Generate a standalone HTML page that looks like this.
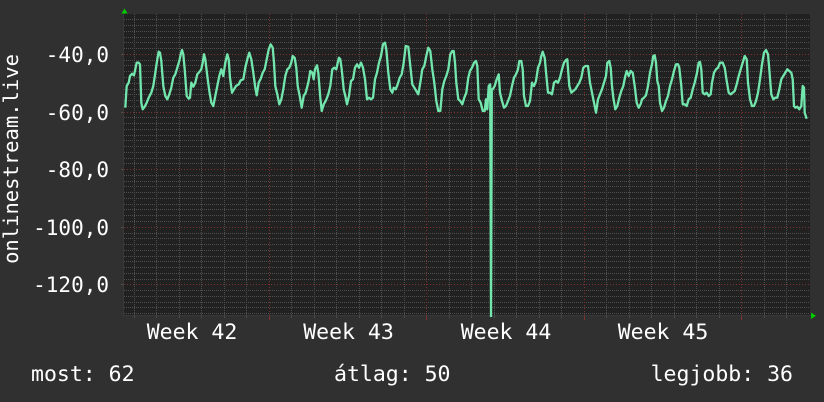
<!DOCTYPE html>
<html><head><meta charset="utf-8">
<style>
html,body{margin:0;padding:0;background:#303030;}
svg{display:block;}
text{font-family:"DejaVu Sans Mono","Liberation Mono",monospace;fill:#ffffff;}
</style></head>
<body>
<svg width="824" height="402" viewBox="0 0 824 402" xmlns="http://www.w3.org/2000/svg">
<rect x="0" y="0" width="824" height="402" fill="#303030"/>
<rect x="124" y="14" width="686" height="302" fill="#212121"/>
<!-- minor horizontal grid -->
<path fill="none" stroke="#4e4e4e" stroke-width="1" stroke-dasharray="1,1" d="
M124,19.5H810 M124,25.5H810 M124,31.5H810 M124,37.5H810 M124,42.5H810 M124,48.5H810
M124,60.5H810 M124,65.5H810 M124,71.5H810 M124,77.5H810 M124,83.5H810 M124,89.5H810 M124,94.5H810 M124,100.5H810 M124,106.5H810
M124,117.5H810 M124,123.5H810 M124,129.5H810 M124,135.5H810 M124,140.5H810 M124,146.5H810 M124,152.5H810 M124,158.5H810 M124,163.5H810
M124,175.5H810 M124,181.5H810 M124,186.5H810 M124,192.5H810 M124,198.5H810 M124,204.5H810 M124,209.5H810 M124,215.5H810 M124,221.5H810
M124,233.5H810 M124,238.5H810 M124,244.5H810 M124,250.5H810 M124,256.5H810 M124,261.5H810 M124,267.5H810 M124,273.5H810 M124,279.5H810
M124,290.5H810 M124,296.5H810 M124,302.5H810 M124,307.5H810 M124,313.5H810"/>
<!-- minor vertical grid -->
<path fill="none" stroke="#4e4e4e" stroke-width="1" stroke-dasharray="1,1" d="
M134.5,14V316 M156.5,14V316 M179.5,14V316 M201.5,14V316 M224.5,14V316 M246.5,14V316
M291.5,14V316 M314.5,14V316 M336.5,14V316 M359.5,14V316 M381.5,14V316 M404.5,14V316
M449.5,14V316 M471.5,14V316 M494.5,14V316 M516.5,14V316 M539.5,14V316 M561.5,14V316
M606.5,14V316 M629.5,14V316 M651.5,14V316 M674.5,14V316 M696.5,14V316 M719.5,14V316
M764.5,14V316 M786.5,14V316"/>
<!-- major grid -->
<path fill="none" stroke="#7e3232" stroke-width="1" stroke-dasharray="1,2" d="
M124,54.5H810 M124,112.5H810 M124,169.5H810 M124,227.5H810 M124,284.5H810
M269.5,14V316 M426.5,14V316 M584.5,14V316 M741.5,14V316"/>
<!-- ticks -->
<path fill="none" stroke="#4e4e4e" stroke-width="1" d="
M134.5,316V318 M156.5,316V318 M179.5,316V318 M201.5,316V318 M224.5,316V318 M246.5,316V318
M291.5,316V318 M314.5,316V318 M336.5,316V318 M359.5,316V318 M381.5,316V318 M404.5,316V318
M449.5,316V318 M471.5,316V318 M494.5,316V318 M516.5,316V318 M539.5,316V318 M561.5,316V318
M606.5,316V318 M629.5,316V318 M651.5,316V318 M674.5,316V318 M696.5,316V318 M719.5,316V318
M764.5,316V318 M786.5,316V318 M121,54.5H124 M121,112.5H124 M121,169.5H124 M121,227.5H124 M121,284.5H124"/>
<path fill="none" stroke="#7e3232" stroke-width="1" d="M269.5,316V320 M426.5,316V320 M584.5,316V320 M741.5,316V320"/>
<path fill="none" stroke="#383838" stroke-width="1" d="M124,315.5H811 M123.5,14V316"/>
<!-- arrows -->
<polygon points="121.5,13.5 127.5,13.5 124.5,8.5" fill="#00cc00"/>
<polygon points="811,312.5 811,319 816,315.7" fill="#00cc00"/>
<!-- data line -->
<defs><clipPath id="pc"><rect x="124" y="14" width="686" height="303"/></clipPath></defs>
<polyline clip-path="url(#pc)" fill="none" stroke="#72e6ad" stroke-width="2.3" stroke-linejoin="round" points="
125.3,107.7 126.7,86 128.7,82.7 130,76 132,73.7 134,75.3 135.3,69.3 136.7,62.7 138.7,62.7 140,64.3 141.3,102.7 142.7,109.3 144.7,106.7 146.7,102.7 148.7,97.7 151.3,92.7 153.3,86 155.3,72.7 157.3,59.3 158.7,51.7 160,52.7 161.3,61 163.3,86 165.3,96 167.3,99.3 169.3,94.3 171.3,87.7 173.3,77.7 175.3,74.3 177.3,67.7 179.3,61 180.7,54.3 182,50 183.3,54.3 184.7,69.3 186.7,96 188.7,98.7 190,97.7 191.3,82.7 193.3,86.7 195.3,82.7 197.3,74.3 199.3,72 201.3,69.3 202.7,62.7 204,54.3 205.3,59.3 207.3,76 209.3,91 211.3,102.7 213.3,106 215.3,96 217.3,86 219.3,76 221.3,69.3 223.3,76 225.3,62.7 227.3,54.3 228.7,59.3 230,77.7 232,92.7 234,89.3 236,86 238.7,84.3 240.7,80.3 243.3,79.3 245.3,67.7 247.3,59.3 249.3,52.7 251.3,59.3 253.3,72.7 255.3,87.7 256.7,95.3 258.7,82.7 260.7,78.7 262.7,72.7 264.7,69.3 266.7,59.3 268.7,49.3 270.7,44.3 272.7,47.7 274,62.7 275.3,86 277.3,94.3 279.3,104.3 281.3,99.3 283.3,89.3 285.3,76 287.3,69.3 289.3,67.7 291.3,62.7 292.7,56 294.7,58 296.3,67.7 297.7,86 299.7,96 301.7,107.7 303.7,96 305.7,92.7 308.3,82.7 310.3,71 312.3,72.7 313.7,79.3 315,69.3 317,65.3 318.3,72.7 320.3,97.7 321.7,111 323.7,104.3 325.7,101 328.3,94.3 330.3,86 332.3,69.3 334.3,67.7 336.3,69.3 337.7,62.7 339,57.7 340.3,59.3 341.7,69.3 343.7,89.3 345.7,97.7 347,104.3 349,96 351,81 353,79.3 355,67.7 357,64.3 359,67.7 361,62.7 363,67.7 365,79.3 367,99.3 369,97.7 371,99.3 373,97.7 375,79.3 377,72.7 379,62.7 381,56 383,44.3 385,42.7 386.3,49.3 388.3,72.7 390.3,89.3 392.3,92.7 393.7,87.7 395.7,89.3 397.7,84.3 399.7,77.7 401.7,74.3 403.7,62.7 405.7,46 408.3,46.7 410.3,66 412.3,84.3 414.3,87.7 416.3,91 418.3,94.3 420.3,82.7 422.3,69.3 424.3,66 426.3,56 428.3,47.7 430.3,51 432.3,69.3 434.3,82.7 436.3,101 438.3,111 440.3,111 442.3,89.3 444.3,81 446.3,76 448.3,69.3 450.3,54.3 452.3,51 453.7,51 455,62.7 456.3,82.7 458.3,99.3 460.3,101 462.3,104.3 464.3,97.7 466.3,92.7 468.3,77.7 470,71 472,67.7 474,62.7 476,61 477.3,66 478.7,99.3 480.7,102.7 482.7,111 484.7,111 486,99.3 487.3,109.3 488.7,86 490.2,84.3 491,318 491.8,89.3 492.7,89.3 494.7,86 496.7,79.3 498.7,74.3 500,92.7 502,101 504,107.7 506,106 508,101 510,96 512,86 514,77.7 516,74.3 518,69.3 519.3,61 521.3,61 522.7,69.3 524,96 526,106 528,106 530,101 532,82.7 534,86 536,81 538,67.7 540,62.7 541.3,56 542.7,51.7 544.7,57.7 546.7,79.3 548,92.7 550,92.7 552,94.3 554,82.7 556,81 558,82.7 560,77.7 562,69.3 564,62.7 566,60 567.3,59.3 569.3,86 571.3,92.7 573.3,91 575.3,89.3 577.3,86 579.3,82.7 581.3,77.7 583.3,67.7 585.3,66 588,66 590,82.7 592,92.7 594,102.7 596,112.7 598,99.3 600,94.3 602,89.3 604,82.7 606,76 607.3,62.7 609.3,61 610.7,67.7 612,86 613.3,97.7 615.3,109.3 617.3,106 619.3,97.7 621.3,91 623.3,86 625.3,76 626.7,71 628.7,76 630.7,71 632.7,72.7 634.7,86 636.7,102.7 638.7,107.7 640.7,104 642,99.3 644,97.7 646,95.3 648,86 650,72.7 652,64.3 653.3,56 654.7,55.3 656,62.7 657.3,81 658.7,86 660,102.7 662,111 664,107.7 666,101 668,96 670,86 672,79.3 674,71 676,64.3 678,64.3 679.3,67.7 681.3,86 682.7,104.3 684.7,104.3 686.7,106 688.7,99.3 690.7,97.7 692.7,89.3 694.7,82.7 696.7,74.3 698.7,62.7 700,62 701.3,69.3 702.7,92.7 704.7,94.3 706.7,92.7 708.7,96 710.7,94.3 712,82.7 714,72.7 716,69.3 718,67.7 720,62.7 722.7,62.7 724.7,67.7 726.7,81 728.7,92.7 730.7,94.3 732.7,92.7 734.7,91 736.7,84.3 738.7,76 740.7,69.3 742.7,62.7 744.7,56 746.7,59.3 748,82.7 750,99.3 752,106 754,106 756,101 758,92.7 760,79.3 762,64.3 764,52.7 766,50 768,54.3 769.3,69.3 771.3,94.3 773.3,99.3 775.3,97.7 777.3,97.7 779.3,89.3 781.3,79.3 783.3,76 785.3,72.7 787.3,69.3 789.3,71 791.3,72.7 792.7,79.3 794,106 795.3,107.7 797.3,106.7 799.3,109.3 801.3,106 802.7,86 804,87.7 804.7,112.7 806.7,118.7"/>
<!-- y tick labels -->
<g font-size="21" text-anchor="end">
<text x="109" y="62">-40,0</text>
<text x="109" y="120">-60,0</text>
<text x="109" y="177">-80,0</text>
<text x="109" y="235">-100,0</text>
<text x="109" y="292">-120,0</text>
</g>
<!-- y title -->
<text font-size="20.5" text-anchor="middle" transform="translate(18,159) rotate(-90)">onlinestream.live</text>
<!-- x labels -->
<g font-size="21.5" text-anchor="middle">
<text x="192" y="339">Week 42</text>
<text x="348.5" y="339">Week 43</text>
<text x="506" y="339">Week 44</text>
<text x="663" y="339">Week 45</text>
</g>
<!-- legend -->
<g font-size="21.5">
<text x="31" y="381">most: 62</text>
<text x="334" y="381">átlag: 50</text>
<text x="793" y="381" text-anchor="end">legjobb: 36</text>
</g>
</svg>
</body></html>
